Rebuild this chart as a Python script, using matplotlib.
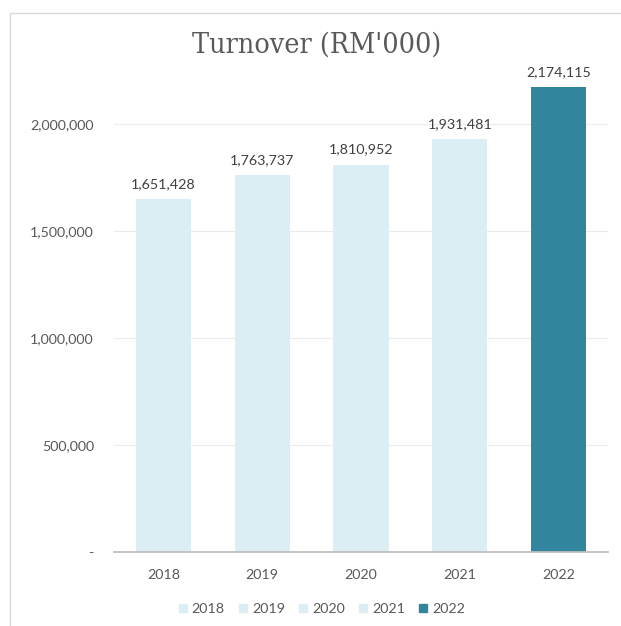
import matplotlib.pyplot as plt
from matplotlib.patches import Rectangle
from matplotlib.ticker import FuncFormatter

# data
years = ['2018', '2019', '2020', '2021', '2022']
turnover = [1651428, 1763737, 1810952, 1931481, 2174115]
bar_colors = ['#DAEEF3', '#DAEEF3', '#DAEEF3', '#DAEEF3', '#31859C']
y_ticks = [0, 500000, 1000000, 1500000, 2000000]

text_color = '#595959'
fs = 10.3
plt.rcParams['font.family'] = ['Lato', 'DejaVu Sans']

fig = plt.figure(figsize=(6.21, 6.26), dpi=100)
W, H = 621, 626

# chart frame (only top and left edges are visible in the crop)
fig.patches.append(Rectangle((10 / W, -0.1), 1.2, (H - 13) / H + 0.1,
                             transform=fig.transFigure, fill=False,
                             edgecolor='#D9D9D9', linewidth=1.0))

ax = fig.add_axes([114 / W, 1 - 552 / H, 494 / W, 492 / H])
x = range(len(years))
bars = ax.bar(x, turnover, width=0.56, color=bar_colors, zorder=2)

for xi, v in zip(x, turnover):
    ax.annotate(f'{v:,}', (xi, v), xytext=(0, 6.5), textcoords='offset points',
                ha='center', va='bottom', fontsize=fs, color='#404040')

ax.set_xlim(-0.5, len(years) - 0.5)
ax.set_ylim(0, 2300000)
ax.set_yticks(y_ticks)
ax.yaxis.set_major_formatter(FuncFormatter(lambda v, p: '-' if v == 0 else f'{int(v):,}'))
ax.set_xticks(list(x))
ax.set_xticklabels(years)
ax.tick_params(axis='both', length=0, labelsize=fs, labelcolor=text_color)
ax.tick_params(axis='y', pad=14.5)
ax.tick_params(axis='x', pad=12)
ax.grid(axis='y', color='#EBEBEB', linewidth=0.8, zorder=0)

for s in ['top', 'right', 'left']:
    ax.spines[s].set_visible(False)
ax.spines['bottom'].set_color('#BFBFBF')
ax.spines['bottom'].set_linewidth(1.3)

fig.text(317 / W, 1 - 53 / H, "Turnover (RM'000)", ha='center', va='baseline',
         fontsize=20.5, color=text_color, family='DejaVu Serif',
         fontstretch='condensed')

handles = [Rectangle((0, 0), 1, 1, color=c) for c in bar_colors]
fig.legend(handles, years, loc='center', bbox_to_anchor=(322 / W, 1 - 609 / H),
           ncol=5, frameon=False, fontsize=fs, labelcolor=text_color,
           handlelength=0.55, handleheight=0.55, handletextpad=0.35,
           columnspacing=1.0)

fig.savefig('out.png', dpi=100)
